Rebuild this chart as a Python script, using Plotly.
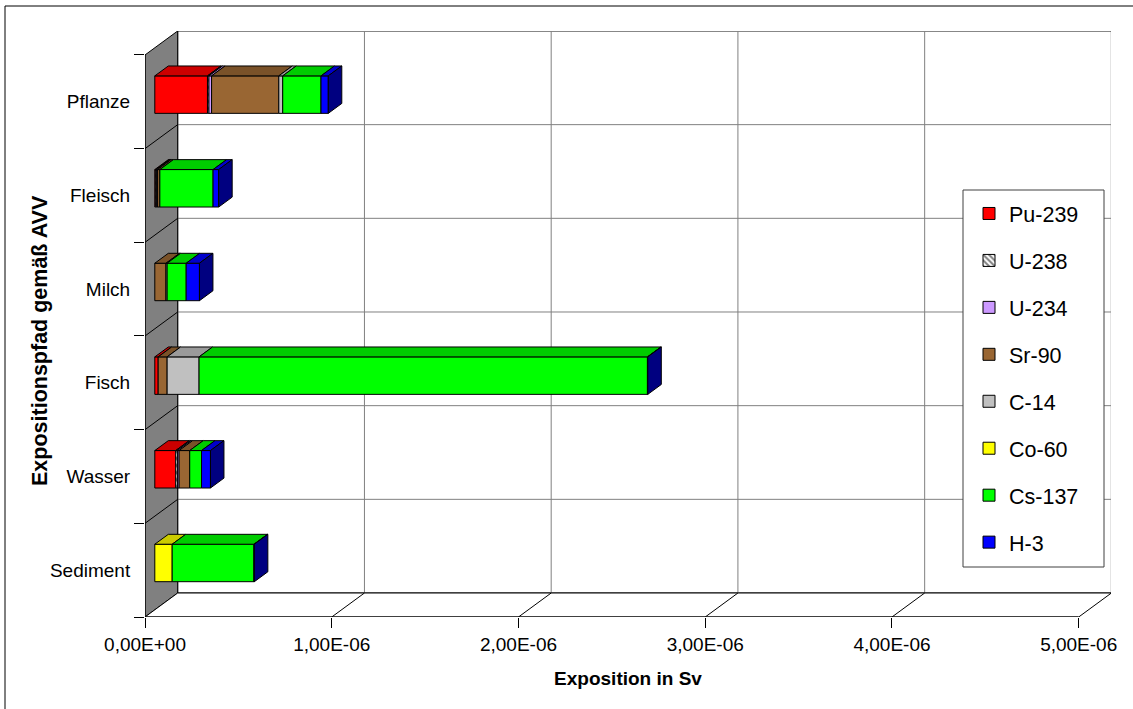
import plotly.graph_objects as go

# ---------------- data ----------------
categories = ["Sediment", "Wasser", "Fisch", "Milch", "Fleisch", "Pflanze"]
nuclides = ["Pu-239", "U-238", "U-234", "Sr-90", "C-14", "Co-60", "Cs-137", "H-3"]

# exposure in Sv, one value per category (Sediment ... Pflanze)
pu239 = [0.0, 0.112e-6, 0.018e-6, 0.0, 0.005e-6, 0.282e-6]
u238 = [0.0, 0.009e-6, 0.0, 0.0, 0.005e-6, 0.008e-6]
u234 = [0.0, 0.009e-6, 0.0, 0.0, 0.005e-6, 0.014e-6]
sr90 = [0.0, 0.057e-6, 0.048e-6, 0.060e-6, 0.012e-6, 0.360e-6]
c14 = [0.0, 0.0, 0.171e-6, 0.006e-6, 0.0, 0.021e-6]
co60 = [0.093e-6, 0.0, 0.0, 0.0, 0.0, 0.0]
cs137 = [0.438e-6, 0.063e-6, 2.401e-6, 0.102e-6, 0.285e-6, 0.205e-6]
h3 = [0.002e-6, 0.048e-6, 0.002e-6, 0.071e-6, 0.030e-6, 0.039e-6]

x_tickvals = [0, 1e-6, 2e-6, 3e-6, 4e-6, 5e-6]
x_ticktext = ["0,00E+00", "1,00E-06", "2,00E-06", "3,00E-06", "4,00E-06", "5,00E-06"]

series = [pu239, u238, u234, sr90, c14, co60, cs137, h3]
colors = [(255, 0, 0), (255, 255, 255), (204, 153, 255), (153, 102, 51),
          (192, 192, 192), (255, 255, 0), (0, 255, 0), (0, 0, 255)]

# ---------------- geometry ----------------
W, H = 1133, 709
ML, MR, MT, MB = 145, 22, 31, 92
plot_w = W - ML - MR
plot_h = H - MT - MB
kx = 933.7 / 5e-6          # px per Sv on front plane
ky = 93.67                 # px per category
DX = 32.7 / kx             # full depth offset (x, data units)
DY = 24.0 / ky             # full depth offset (y, data units)
D0, D1 = 0.30, 0.713       # bar depth start / end fractions
BAR_H = 0.40
x_range = [0, plot_w / kx]
y_range = [0, plot_h / ky]
XMAX = x_tickvals[-1]
NC = len(categories)


def rgb(c, f=1.0):
    return "rgb(%d,%d,%d)" % tuple(int(round(v * f)) for v in c)


def px2paper_x(px):
    return (px - ML) / plot_w


def py2paper_y(py):
    return (H - MB - py) / plot_h


fig = go.Figure()

# ---------------- bars (front faces) ----------------
cum = [0.0] * NC
segs = [[] for _ in range(NC)]
for i, (name, vals, col) in enumerate(zip(nuclides, series, colors)):
    base = [cum[k] + D0 * DX for k in range(NC)]
    xs = [v if v > 0 else None for v in vals]
    ys = [k + 0.5 + D0 * DY for k in range(NC)]
    marker = dict(color=rgb(col), line=dict(color="black", width=1))
    if name == "U-238":
        marker["pattern"] = dict(shape="\\", fgcolor="black", bgcolor="white",
                                 size=5, solidity=0.5)
    fig.add_trace(go.Bar(orientation="h", x=xs, y=ys, base=base, width=BAR_H,
                         marker=marker, name=name, legendgroup=name,
                         hoverinfo="skip"))
    for k in range(NC):
        if vals[k] > 0:
            segs[k].append((cum[k], cum[k] + vals[k], i))
        cum[k] += vals[k]

# ---------------- 3D top and side faces ----------------
ddx = (D1 - D0) * DX
ddy = (D1 - D0) * DY
for k in range(NC):
    yc = k + 0.5 + D0 * DY
    yt, yb = yc + BAR_H / 2, yc - BAR_H / 2
    for j, (a, b, i) in enumerate(segs[k]):
        col = colors[i]
        topc = rgb(col, 0.8) if nuclides[i] != "U-238" else "rgb(60,60,60)"
        a0, b0 = a + D0 * DX, b + D0 * DX
        fig.add_trace(go.Scatter(
            x=[a0, b0, b0 + ddx, a0 + ddx, a0], y=[yt, yt, yt + ddy, yt + ddy, yt],
            mode="lines", fill="toself", fillcolor=topc,
            line=dict(color="black", width=1), showlegend=False, hoverinfo="skip"))
        if j == len(segs[k]) - 1:
            sidec = rgb(col, 0.5)
            fig.add_trace(go.Scatter(
                x=[b0, b0, b0 + ddx, b0 + ddx, b0], y=[yb, yt, yt + ddy, yb + ddy, yb],
                mode="lines", fill="toself", fillcolor=sidec,
                line=dict(color="black", width=1), showlegend=False, hoverinfo="skip"))

# ---------------- walls, floor, gridlines ----------------
shapes = []
# back wall
shapes.append(dict(type="rect", x0=DX, x1=XMAX + DX, y0=DY, y1=NC + DY,
                   fillcolor="white", line=dict(color="black", width=1), layer="below"))
for xv in x_tickvals[1:-1]:
    shapes.append(dict(type="line", x0=xv + DX, x1=xv + DX, y0=DY, y1=NC + DY,
                       line=dict(color="#808080", width=1), layer="below"))
for k in range(1, NC):
    shapes.append(dict(type="line", x0=DX, x1=XMAX + DX, y0=k + DY, y1=k + DY,
                       line=dict(color="#808080", width=1), layer="below"))
# left wall
shapes.append(dict(type="path",
                   path="M %g,%g L %g,%g L %g,%g L %g,%g Z" % (0, 0, DX, DY, DX, NC + DY, 0, NC),
                   fillcolor="#808080", line=dict(color="black", width=1), layer="below"))
for k in range(1, NC):
    shapes.append(dict(type="line", x0=0, x1=DX, y0=k, y1=k + DY,
                       line=dict(color="black", width=1), layer="below"))
# floor
shapes.append(dict(type="path",
                   path="M %g,%g L %g,%g L %g,%g L %g,%g Z" % (0, 0, XMAX, 0, XMAX + DX, DY, DX, DY),
                   fillcolor="white", line=dict(color="black", width=1), layer="below"))
for xv in x_tickvals[1:-1]:
    shapes.append(dict(type="line", x0=xv, x1=xv + DX, y0=0, y1=DY,
                       line=dict(color="black", width=1), layer="below"))
# outer chart border (left and top edges visible)
shapes.append(dict(type="rect", xref="paper", yref="paper",
                   x0=px2paper_x(5), x1=px2paper_x(1140), y0=py2paper_y(715), y1=py2paper_y(6),
                   line=dict(color="black", width=1), fillcolor="rgba(0,0,0,0)", layer="below"))
# legend box
shapes.append(dict(type="rect", xref="paper", yref="paper",
                   x0=px2paper_x(963), x1=px2paper_x(1104), y0=py2paper_y(567), y1=py2paper_y(190),
                   line=dict(color="#404040", width=1), fillcolor="white", layer="above"))

FONT = "Liberation Sans, Arial, sans-serif"

fig.update_layout(
    width=W, height=H,
    margin=dict(l=ML, r=MR, t=MT, b=MB, pad=0),
    paper_bgcolor="white", plot_bgcolor="rgba(0,0,0,0)",
    barmode="overlay",
    shapes=shapes,
    font=dict(family=FONT, size=19, color="black"),
    showlegend=True,
    legend=dict(x=px2paper_x(969), y=py2paper_y(193), xanchor="left", yanchor="top",
                bgcolor="rgba(0,0,0,0)", borderwidth=0,
                font=dict(family=FONT, size=21.5, color="black"),
                traceorder="grouped", tracegroupgap=16),
    xaxis=dict(range=x_range, showgrid=False, zeroline=False, showline=False,
               tickmode="array", tickvals=x_tickvals, ticktext=x_ticktext,
               ticks="outside", ticklen=10, tickcolor="black", tickwidth=1,
               tickfont=dict(size=19), automargin=False,
               title=dict(text="Exposition in Sv", standoff=17,
                          font=dict(size=19, weight="bold"))),
    yaxis=dict(range=y_range, showgrid=False, zeroline=False, showline=False,
               tickmode="array", tickvals=[k + 0.5 for k in range(NC)], ticktext=categories,
               ticks="outside", ticklen=10, tickcolor="rgba(0,0,0,0)",
               minor=dict(tickmode="array", tickvals=list(range(NC + 1)), ticks="outside",
                          ticklen=10, tickcolor="black", tickwidth=1, showgrid=False),
               tickfont=dict(size=19), automargin=False),
    annotations=[dict(text="Expositionspfad gemäß AVV", textangle=-90,
                      xref="paper", yref="paper", x=px2paper_x(40), y=py2paper_y(341),
                      xanchor="center", yanchor="middle", showarrow=False,
                      font=dict(size=21.5, weight="bold"))],
)

# front edges (axis lines of the 3D box)
fig.add_shape(type="line", x0=0, x1=0, y0=0, y1=NC, line=dict(color="black", width=1), layer="below")
fig.add_shape(type="line", x0=0, x1=XMAX, y0=0, y1=0, line=dict(color="black", width=1), layer="below")

fig.write_html("out.html")
